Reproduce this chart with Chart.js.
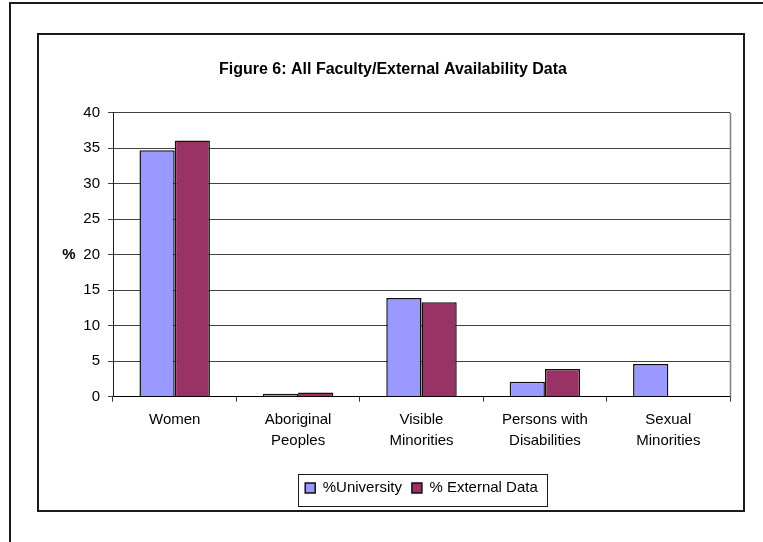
<!DOCTYPE html>
<html>
<head>
<meta charset="utf-8">
<script src="https://cdn.jsdelivr.net/npm/chart.js@4.4.1/dist/chart.umd.min.js"></script>
<style>
html,body{margin:0;padding:0;background:#fff;width:763px;height:542px;overflow:hidden;}
#outer{position:absolute;left:9px;top:2px;width:820px;height:620px;border:2px solid #1a1a1a;box-sizing:border-box;}
#inner{position:absolute;left:37px;top:33px;width:704px;height:475px;border:2px solid #1a1a1a;background:#fff;}
#inner canvas{display:block;}
</style>
</head>
<body>
<div id="outer"></div>
<div id="inner"><canvas id="c" width="704" height="475"></canvas></div>
<script>
const categories = [["Women"], ["Aboriginal", "Peoples"], ["Visible", "Minorities"], ["Persons with", "Disabilities"], ["Sexual", "Minorities"]];
const universityValues = [34.7, 0.4, 13.9, 2.1, 4.6];
const externalValues = [36.1, 0.6, 13.3, 3.9, null];
const seriesNames = ["%University", "% External Data"];
const titleText = "Figure 6: All Faculty/External Availability Data";
const yTitle = "%";
const yMin = 0, yMax = 40, yStep = 5;

const FONT = '"Liberation Sans", Arial, sans-serif';

const framePlugin = {
  id: 'frame',
  afterDraw(chart) {
    const ctx = chart.ctx;
    const a = chart.chartArea;
    ctx.save();
    ctx.strokeStyle = '#808080';
    ctx.lineWidth = 1.5;
    ctx.beginPath();
    ctx.moveTo(Math.round(a.right) + 0.5, a.top);
    ctx.lineTo(Math.round(a.right) + 0.5, a.bottom);
    ctx.stroke();
    ctx.fillStyle = '#000';
    ctx.font = 'bold 15px ' + FONT;
    ctx.textAlign = 'center';
    ctx.textBaseline = 'middle';
    ctx.fillText(yTitle, 30, (a.top + a.bottom) / 2);
    const hb = chart.legend.legendHitBoxes;
    if (hb && hb.length) {
      let l = Infinity, r = -Infinity, t = Infinity, b = -Infinity;
      hb.forEach(h => {
        l = Math.min(l, h.left); r = Math.max(r, h.left + h.width);
        t = Math.min(t, h.top); b = Math.max(b, h.top + h.height);
      });
      const cy = (t + b) / 2;
      ctx.strokeStyle = '#1a1a1a';
      ctx.lineWidth = 1;
      ctx.strokeRect(Math.round(l - 7) + 0.5, Math.round(cy - 14) + 0.5, Math.round(r - l + 16), 32);
    }
    ctx.restore();
  }
};

new Chart(document.getElementById('c'), {
  type: 'bar',
  data: {
    labels: categories,
    datasets: [
      { label: seriesNames[0], data: universityValues, backgroundColor: '#9999FF', borderColor: '#111', borderWidth: 1.5,
        categoryPercentage: 0.571, barPercentage: 1.0 },
      { label: seriesNames[1], data: externalValues, backgroundColor: '#993366', borderColor: '#111', borderWidth: 1.5,
        categoryPercentage: 0.571, barPercentage: 1.0 }
    ]
  },
  options: {
    responsive: false,
    animation: false,
    devicePixelRatio: 1,
    layout: { padding: { left: 17, right: 13, top: 0, bottom: 4.5 } },
    plugins: {
      title: {
        display: true, text: titleText, color: '#000',
        font: { family: FONT, size: 16, weight: 'bold' },
        padding: { top: 25.4, bottom: 33.1 }
      },
      legend: {
        position: 'bottom', fullSize: false,
        labels: { boxWidth: 10, boxHeight: 10, padding: 10, color: '#000', font: { family: FONT, size: 15 } }
      },
      tooltip: { enabled: false }
    },
    scales: {
      x: {
        grid: { display: true, drawOnChartArea: false, drawTicks: true, tickLength: 5, color: '#333', offset: true },
        border: { display: true, color: '#000', width: 1 },
        ticks: { color: '#000', padding: 8, maxRotation: 0, autoSkip: false, font: { family: FONT, size: 15, lineHeight: 1.38 } },
        afterFit: s => { s.height = 73.8; }
      },
      y: {
        min: yMin, max: yMax,
        grid: { color: '#404040', lineWidth: 1, tickLength: 5, drawTicks: true },
        border: { display: true, color: '#1a1a1a', width: 1 },
        ticks: { stepSize: yStep, color: '#000', padding: 8, font: { family: FONT, size: 15 } },
        afterFit: s => { s.width = 57; }
      }
    }
  },
  plugins: [framePlugin]
});
</script>
</body>
</html>
